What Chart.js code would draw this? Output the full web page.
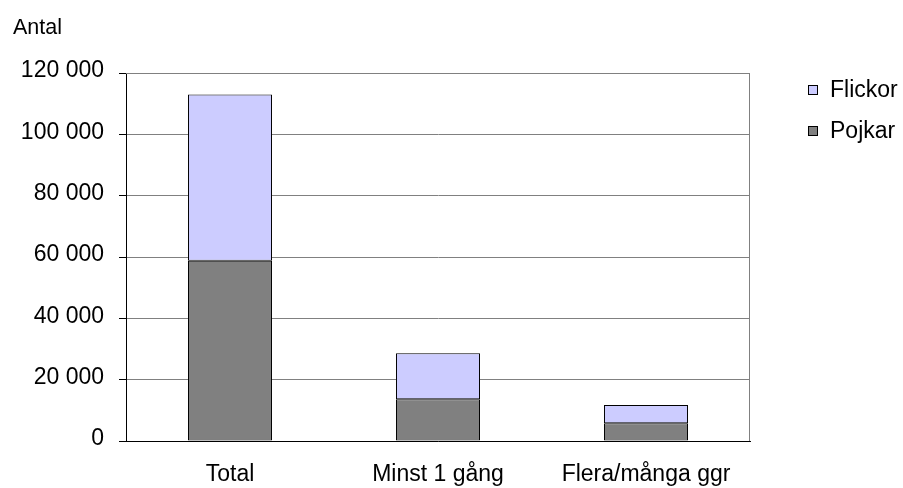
<!DOCTYPE html>
<html>
<head>
<meta charset="utf-8">
<script src="https://cdn.jsdelivr.net/npm/chart.js@4"></script>
<style>
html,body{margin:0;padding:0;background:#fff;}
#wrap{position:relative;width:903px;height:488px;}
</style>
</head>
<body>
<div id="wrap"><canvas id="c" width="903" height="488"></canvas></div>
<script>
const categories = ["Total", "Minst 1 gång", "Flera/många ggr"];
const pojkar = [58800, 13600, 5800];
const flickor = [54200, 15000, 5900];
const yTicks = [0, 20000, 40000, 60000, 80000, 100000, 120000];
const yTitle = "Antal";
const seriesNames = ["Flickor", "Pojkar"];

const FONT = "Liberation Sans, Arial, sans-serif";
const FS = 23;

function fmt(v){
  return String(v).replace(/\B(?=(\d{3})+(?!\d))/g, " ");
}

const extras = {
  id: "extras",
  beforeDatasetsDraw(chart){
    const {ctx, chartArea:a} = chart;
    ctx.save();
    ctx.strokeStyle = "#808080";
    ctx.lineWidth = 1;
    ctx.beginPath();
    ctx.moveTo(a.left, a.top + 0.5);
    ctx.lineTo(a.right - 0.5, a.top + 0.5);
    ctx.lineTo(a.right - 0.5, a.bottom);
    ctx.stroke();
    ctx.restore();
  },
  afterDraw(chart){
    const ctx = chart.ctx;
    ctx.save();
    ctx.fillStyle = "#000";
    ctx.font = "21.5px " + FONT;
    ctx.textBaseline = "middle";
    ctx.textAlign = "left";
    ctx.fillText(yTitle, 13, 28);
    const items = chart.data.datasets.slice().reverse();
    const ys = [90, 131];
    items.forEach((ds, i) => {
      const y = ys[i];
      ctx.fillStyle = ds.backgroundColor;
      ctx.fillRect(808.5, y - 4.5, 9, 9);
      ctx.strokeStyle = "#000";
      ctx.lineWidth = 1;
      ctx.strokeRect(808.5, y - 4.5, 9, 9);
      ctx.fillStyle = "#000";
      ctx.font = FS + "px " + FONT;
      ctx.fillText(ds.label, 830, y + 1);
    });
    ctx.restore();
  }
};

new Chart(document.getElementById("c"), {
  type: "bar",
  data: {
    labels: categories,
    datasets: [
      {label: seriesNames[1], data: pojkar, backgroundColor: "#808080", borderColor: "#000", borderWidth: 1, categoryPercentage: 1, barPercentage: 0.404, borderSkipped: false},
      {label: seriesNames[0], data: flickor, backgroundColor: "#CCCCFF", borderColor: "#000", borderWidth: 1, categoryPercentage: 1, barPercentage: 0.404, borderSkipped: false}
    ]
  },
  options: {
    responsive: false,
    animation: false,
    devicePixelRatio: 1,
    layout: {padding: {top: 73, right: 153, left: 0, bottom: 0}},
    plugins: {legend: {display: false}, tooltip: {enabled: false}, title: {display: false}},
    scales: {
      x: {
        stacked: true,
        grid: {display: true, drawOnChartArea: false, drawTicks: false, offset: true},
        border: {display: true, color: "#000", width: 1},
        ticks: {color: "#000", font: {family: FONT, size: FS}, padding: 20, maxRotation: 0, autoSkip: false},
        afterFit(s){ s.height = 47; }
      },
      y: {
        stacked: true,
        min: 0, max: 120000,
        afterBuildTicks(s){ s.ticks = yTicks.map(v => ({value: v})); },
        grid: {color: "#808080", lineWidth: 1, tickColor: "#000", tickLength: 7},
        border: {display: true, color: "#000", width: 1},
        ticks: {color: "#000", font: {family: FONT, size: FS}, padding: 15, labelOffset: -2, callback: v => fmt(v)},
        afterFit(s){ s.width = 126; }
      }
    }
  },
  plugins: [extras]
});
</script>
</body>
</html>
